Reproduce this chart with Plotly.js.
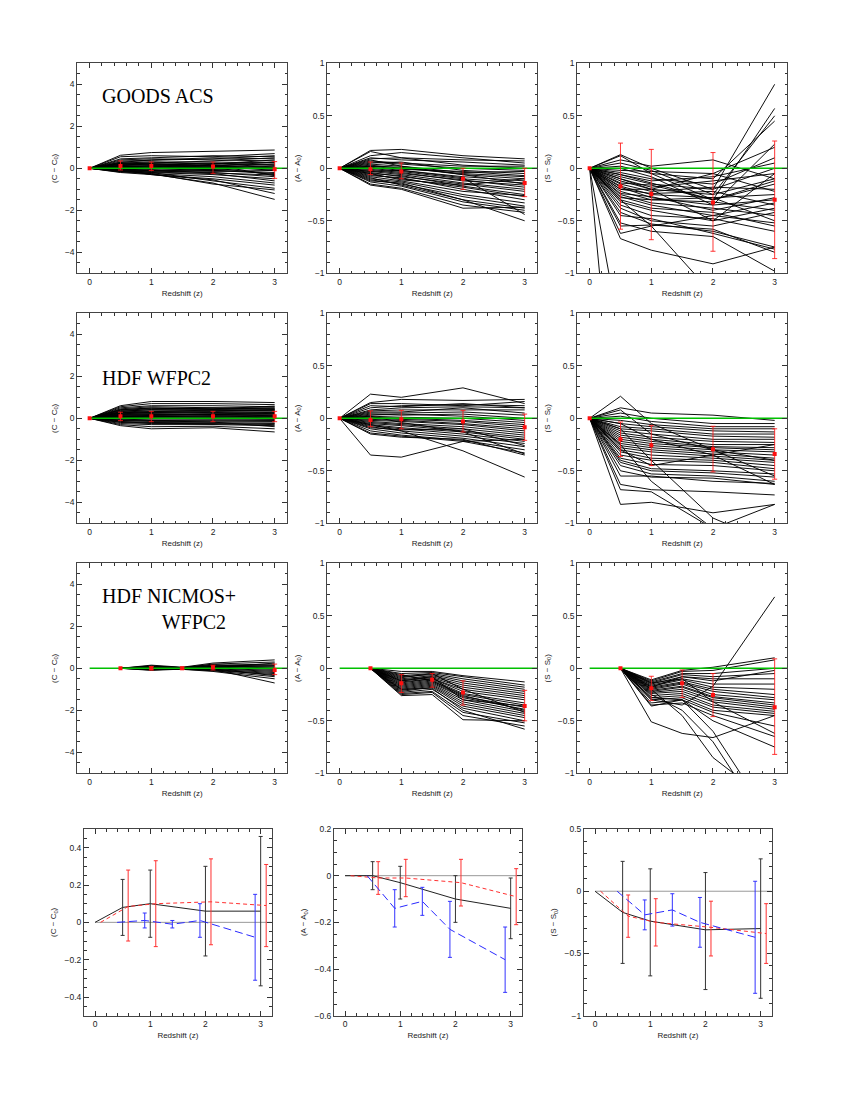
<!DOCTYPE html>
<html><head><meta charset="utf-8">
<script src="https://cdn.plot.ly/plotly-3.0.1.min.js"></script>
<style>body{margin:0;background:#fff}#chart{width:850px;height:1100px}</style>
</head><body><div id="chart"></div>
<script>
// ---------- redshift grids ----------
const zFull = [0, 0.5, 1, 2, 3];
const zNic = [0.5, 1, 1.5, 2, 3];

// ---------- individual galaxy tracks (black) ----------
const goodsC = [
 [0,0.62,0.75,0.8,0.87],[0,0.55,0.6,0.55,0.7],[0,0.45,0.5,0.6,0.55],[0,0.4,0.45,0.4,0.35],
 [0,0.35,0.38,0.45,0.6],[0,0.3,0.3,0.3,0.25],[0,0.25,0.3,0.2,0.4],[0,0.22,0.2,0.25,0.15],
 [0,0.2,0.15,0.1,0.3],[0,0.15,0.2,0.15,0.05],[0,0.12,0.1,0.05,0.2],[0,0.1,0.05,0.1,-0.1],
 [0,0.08,0.1,0,0.1],[0,0.05,0,0.05,-0.05],[0,0.03,0.05,-0.05,0],[0,0,-0.02,-0.1,-0.2],
 [0,-0.02,0,0.02,-0.3],[0,-0.05,-0.08,-0.15,-0.1],[0,-0.08,-0.1,-0.2,-0.4],[0,-0.1,-0.15,-0.1,-0.25],
 [0,-0.12,-0.2,-0.3,-0.5],[0,-0.15,-0.18,-0.25,-0.6],[0,-0.18,-0.25,-0.4,-0.7],[0,-0.2,-0.3,-0.5,-0.8],
 [0,-0.05,-0.2,-0.6,-0.95],[0,-0.1,-0.25,-0.75,-1.03],[0,-0.08,-0.3,-0.55,-1.2],[0,-0.12,-0.28,-0.7,-1.48],
 [0,0.18,0.25,0.35,0.5],[0,0.28,0.4,0.5,0.45],[0,0.06,0.12,0.15,-0.35],[0,0.02,-0.05,0.2,0.15],
 [0,0.13,0.16,0.22,0.28],[0,-0.04,-0.12,-0.22,-0.32],[0,0.24,0.22,0.12,0.02],[0,-0.15,-0.1,-0.05,0.05]
];
const goodsA = [
 [0,0.17,0.18,0.12,0.09],[0,0.16,0.1,0.08,0.07],[0,0.12,0.15,0.1,0.05],[0,0.1,0.08,0.06,0.03],
 [0,0.09,0.1,0.03,0],[0,0.07,0.05,0.02,0.02],[0,0.06,0.04,0,-0.02],[0,0.05,0.06,-0.02,-0.05],
 [0,0.04,0.02,-0.04,-0.03],[0,0.03,0,-0.05,-0.08],[0,0.02,0.01,-0.06,-0.1],[0,0.01,-0.02,-0.08,-0.12],
 [0,0,-0.03,-0.1,-0.14],[0,-0.01,-0.04,-0.12,-0.16],[0,-0.02,-0.05,-0.11,-0.18],[0,-0.03,-0.06,-0.14,-0.2],
 [0,-0.04,-0.08,-0.15,-0.22],[0,-0.05,-0.07,-0.17,-0.25],[0,-0.06,-0.1,-0.18,-0.27],[0,-0.07,-0.09,-0.2,-0.3],
 [0,-0.08,-0.12,-0.22,-0.26],[0,-0.1,-0.13,-0.25,-0.33],[0,-0.11,-0.15,-0.27,-0.36],[0,-0.12,-0.14,-0.3,-0.38],
 [0,-0.13,-0.17,-0.32,-0.4],[0,-0.15,-0.19,-0.35,-0.42],[0,-0.16,-0.2,-0.38,-0.37],[0,-0.09,-0.16,-0.3,-0.5],
 [0,0.02,-0.01,-0.03,-0.07],[0,-0.03,-0.02,-0.09,-0.44],[0,0.08,0.02,-0.06,-0.15],[0,-0.05,-0.11,-0.16,-0.1]
];
const goodsS = [
 [0,0.13,0,-0.2,0.8],[0,0.12,-0.05,-0.3,0.57],[0,0.08,0.02,0.08,-0.1],[0,0.05,-0.02,-0.25,0.5],
 [0,0.02,-0.05,-0.1,0.45],[0,0,-0.08,-0.35,0.23],[0,-0.02,-0.03,-0.05,0.2],[0,-0.04,-0.1,-0.15,0.1],
 [0,-0.06,-0.12,-0.08,0.05],[0,-0.08,-0.15,-0.2,0],[0,-0.1,-0.18,-0.12,-0.05],[0,-0.12,-0.2,-0.25,-0.1],
 [0,-0.14,-0.16,-0.3,-0.15],[0,-0.15,-0.22,-0.18,-0.2],[0,-0.17,-0.25,-0.28,-0.25],[0,-0.18,-0.28,-0.35,-0.3],
 [0,-0.2,-0.24,-0.22,-0.35],[0,-0.22,-0.3,-0.32,-0.4],[0,-0.24,-0.27,-0.4,-0.28],[0,-0.25,-0.33,-0.38,-0.45],
 [0,-0.27,-0.35,-0.45,-0.33],[0,-0.28,-0.3,-0.28,-0.5],[0,-0.3,-0.38,-0.42,-0.55],[0,-0.32,-0.4,-0.5,-0.38],
 [0,-0.35,-0.45,-0.48,-0.6],[0,-0.38,-0.5,-0.55,-0.42],[0,-0.42,-0.53,-0.6,-0.75],[0,-0.45,-0.48,-0.62,-0.77],
 [0,-0.52,-0.6,-0.65,-0.98],[0,-0.55,-0.54,-0.58,-0.8],[0,-0.62,-0.55,-0.45,-0.52],[0,-0.67,-0.78,-0.91,-0.75],
 [0,-0.3,-0.55,-1.2,-1.1],[0,-3.1,-3,-3,-3],[0,-1.6,-1.6,-1.6,-1.6],[0,-0.1,-0.2,-0.05,-0.22],
 [0,-0.06,-0.14,-0.3,-0.12],[0,-0.2,-0.2,-0.5,-0.05]
];
const wfpcC = [
 [0,0.6,0.8,0.8,0.75],[0,0.55,0.7,0.7,0.65],[0,0.5,0.6,0.6,0.55],[0,0.45,0.55,0.5,0.5],
 [0,0.4,0.5,0.45,0.48],[0,0.38,0.45,0.5,0.42],[0,0.35,0.4,0.4,0.4],[0,0.3,0.35,0.38,0.35],
 [0,0.28,0.3,0.32,0.3],[0,0.25,0.28,0.25,0.28],[0,0.22,0.25,0.28,0.22],[0,0.2,0.2,0.2,0.2],
 [0,0.18,0.22,0.15,0.15],[0,0.15,0.15,0.18,0.12],[0,0.12,0.12,0.1,0.1],[0,0.1,0.08,0.12,0.05],
 [0,0.08,0.1,0.05,0.08],[0,0.05,0.05,0.08,0.02],[0,0.03,0.02,0,0],[0,0,0,0.02,-0.03],
 [0,-0.03,-0.02,-0.05,-0.05],[0,-0.05,-0.08,-0.08,-0.1],[0,-0.08,-0.1,-0.12,-0.15],[0,-0.1,-0.15,-0.15,-0.12],
 [0,-0.15,-0.2,-0.2,-0.22],[0,-0.2,-0.25,-0.25,-0.3],[0,-0.25,-0.3,-0.3,-0.35],[0,-0.3,-0.4,-0.38,-0.5],
 [0,-0.35,-0.5,-0.45,-0.65],[0,0.32,0.42,0.45,0.58],[0,0.15,0.18,0.22,0.25],[0,-0.12,-0.12,-0.18,-0.4],
 [0,0.42,0.48,0.42,0.45],[0,0.26,0.32,0.35,0.38],[0,-0.18,-0.22,-0.28,-0.25],[0,0.06,0.14,0.18,0.16]
];
const wfpcA = [
 [0,0.23,0.2,0.29,0.14],[0,0.15,0.18,0.17,0.18],[0,0.14,0.14,0.12,0.16],[0,0.1,0.12,0.13,0.12],
 [0,0.08,0.1,0.11,0.1],[0,0.07,0.08,0.08,0.08],[0,0.06,0.06,0.1,0.05],[0,0.05,0.05,0.06,0.03],
 [0,0.04,0.03,0.04,0],[0,0.03,0.04,0.02,-0.02],[0,0.02,0.01,0,-0.04],[0,0.01,0,-0.02,-0.06],
 [0,0,-0.01,-0.03,-0.08],[0,-0.01,-0.02,-0.05,-0.1],[0,-0.02,-0.03,-0.06,-0.12],[0,-0.03,-0.05,-0.08,-0.14],
 [0,-0.04,-0.06,-0.1,-0.16],[0,-0.05,-0.07,-0.12,-0.18],[0,-0.06,-0.09,-0.13,-0.2],[0,-0.07,-0.1,-0.15,-0.22],
 [0,-0.08,-0.12,-0.17,-0.24],[0,-0.1,-0.14,-0.19,-0.27],[0,-0.12,-0.16,-0.21,-0.3],[0,-0.14,-0.17,-0.22,-0.33],
 [0,-0.15,-0.18,-0.2,-0.35],[0,-0.35,-0.37,-0.22,-0.2],[0,-0.06,-0.12,-0.31,-0.56],[0,0.12,0.11,0.14,0.1],
 [0,-0.09,-0.11,-0.1,-0.26],[0,0.02,-0.04,-0.13,-0.34]
];
const wfpcS = [
 [0,0.21,-0.05,-0.3,-0.4],[0,0.1,0.05,0.03,-0.02],[0,0.05,0,-0.05,-0.05],[0,0.02,-0.03,-0.08,-0.08],
 [0,-0.02,-0.06,-0.1,-0.1],[0,-0.05,-0.08,-0.12,-0.13],[0,-0.08,-0.1,-0.15,-0.15],[0,-0.1,-0.12,-0.17,-0.18],
 [0,-0.12,-0.15,-0.2,-0.2],[0,-0.14,-0.18,-0.22,-0.23],[0,-0.16,-0.2,-0.25,-0.25],[0,-0.18,-0.22,-0.27,-0.28],
 [0,-0.2,-0.24,-0.28,-0.3],[0,-0.22,-0.26,-0.3,-0.32],[0,-0.24,-0.28,-0.32,-0.35],[0,-0.26,-0.3,-0.34,-0.38],
 [0,-0.28,-0.32,-0.36,-0.4],[0,-0.3,-0.35,-0.38,-0.42],[0,-0.32,-0.38,-0.4,-0.45],[0,-0.35,-0.4,-0.42,-0.48],
 [0,-0.38,-0.44,-0.45,-0.5],[0,-0.4,-0.48,-0.5,-0.53],[0,-0.42,-0.5,-0.52,-0.56],[0,-0.45,-0.53,-0.55,-0.6],
 [0,-0.5,-0.56,-0.57,-0.63],[0,-0.55,-0.55,-0.6,-0.62],[0,-0.63,-0.68,-0.7,-0.73],[0,-0.82,-0.8,-0.9,-0.82],
 [0,-0.3,-0.45,-0.35,-0.25],[0,-0.1,-0.4,-0.95,-1.2],[0,-0.25,-0.6,-1.05,-1.3],[0,-0.68,-0.7,-1.05,-0.82],
 [0,-0.05,-0.2,-0.35,-0.63],[0,0.08,-0.15,-0.3,-0.55]
];
const nicC = [
 [0,0.15,0.05,0.25,0.4],[0,0.1,0.03,0.2,0.3],[0,0.08,0.02,0.15,0.2],[0,0.06,0.01,0.12,0.15],
 [0,0.05,0,0.1,0.1],[0,0.03,0.02,0.08,0.05],[0,0.02,0,0.05,0],[0,0,-0.01,0.03,-0.05],
 [0,-0.02,0,0,-0.1],[0,-0.03,-0.02,-0.02,-0.15],[0,-0.05,-0.01,-0.05,-0.2],[0,-0.06,-0.03,-0.08,-0.25],
 [0,-0.08,-0.02,-0.1,-0.3],[0,-0.1,-0.04,-0.12,-0.4],[0,-0.04,-0.05,-0.15,-0.5],[0,0.04,0.03,-0.05,-0.7],
 [0,0.01,0.01,0.02,0.25],[0,-0.01,-0.01,-0.03,-0.35],[0,0.07,0.04,0.18,-0.02],[0,0.12,0.03,0.06,0.12]
];
const nicA = [
 [0,-0.03,-0.03,-0.07,-0.13],[0,-0.05,-0.04,-0.08,-0.16],[0,-0.07,-0.05,-0.1,-0.18],[0,-0.08,-0.06,-0.12,-0.2],
 [0,-0.1,-0.07,-0.14,-0.22],[0,-0.11,-0.08,-0.16,-0.24],[0,-0.12,-0.09,-0.18,-0.26],[0,-0.13,-0.1,-0.2,-0.28],
 [0,-0.14,-0.1,-0.22,-0.3],[0,-0.15,-0.11,-0.24,-0.33],[0,-0.16,-0.12,-0.25,-0.35],[0,-0.17,-0.13,-0.27,-0.37],
 [0,-0.18,-0.14,-0.28,-0.39],[0,-0.19,-0.15,-0.3,-0.41],[0,-0.2,-0.16,-0.32,-0.43],[0,-0.21,-0.17,-0.34,-0.45],
 [0,-0.22,-0.18,-0.36,-0.47],[0,-0.23,-0.2,-0.38,-0.5],[0,-0.24,-0.22,-0.42,-0.52],[0,-0.25,-0.23,-0.45,-0.55],
 [0,-0.26,-0.25,-0.49,-0.5],[0,-0.2,-0.19,-0.4,-0.58],[0,-0.09,-0.05,-0.2,-0.42],[0,-0.12,-0.08,-0.3,-0.36],
 [0,-0.06,-0.12,-0.26,-0.4]
];
const nicS = [
 [0,-0.11,-0.02,0.01,0.1],[0,-0.12,-0.03,-0.02,0.08],[0,-0.13,-0.05,-0.05,0],[0,-0.14,-0.06,-0.08,-0.05],
 [0,-0.15,-0.08,-0.1,-0.1],[0,-0.16,-0.1,-0.15,-0.15],[0,-0.17,-0.11,-0.18,-0.2],[0,-0.18,-0.13,-0.2,-0.25],
 [0,-0.19,-0.14,-0.22,-0.28],[0,-0.2,-0.15,-0.25,-0.3],[0,-0.21,-0.17,-0.27,-0.33],[0,-0.22,-0.18,-0.28,-0.35],
 [0,-0.23,-0.2,-0.3,-0.37],[0,-0.24,-0.22,-0.32,-0.39],[0,-0.26,-0.24,-0.35,-0.41],[0,-0.28,-0.26,-0.37,-0.43],
 [0,-0.3,-0.28,-0.4,-0.45],[0,-0.33,-0.3,-0.42,-0.55],[0,-0.35,-0.33,-0.45,-0.65],[0,-0.36,-0.3,-0.5,-0.75],
 [0,-0.3,-0.35,-0.17,0.68],[0,-0.51,-0.62,-0.66,-0.45],[0,-0.25,-0.4,-0.7,-1.6],[0,-0.28,-0.3,-0.6,-1.5],
 [0,-0.2,-0.45,-0.85,-1.3],[0,-0.14,-0.1,-0.32,-0.62],[0,-0.18,-0.08,-0.12,-0.02]
];

// ---------- red medians with bar ends ----------
const goodsCMed = [0,0.11,0.11,0.08,-0.05], goodsCLo = [0,-0.08,-0.1,-0.24,-0.48], goodsCHi = [0,0.35,0.3,0.3,0.32];
const goodsAMed = [0,-0.01,-0.03,-0.1,-0.14], goodsALo = [0,-0.06,-0.1,-0.2,-0.27], goodsAHi = [0,0.06,0.05,0,0];
const goodsSMed = [0,-0.17,-0.245,-0.325,-0.3], goodsSLo = [0,-0.58,-0.68,-0.79,-0.86], goodsSHi = [0,0.24,0.18,0.15,0.26];
const wfpcCMed = [0,0.1,0.1,0.1,0.1], wfpcCLo = [0,-0.11,-0.16,-0.16,-0.16], wfpcCHi = [0,0.29,0.33,0.33,0.33];
const wfpcAMed = [0,-0.016,-0.01,-0.03,-0.085], wfpcALo = [0,-0.08,-0.1,-0.13,-0.21], wfpcAHi = [0,0.07,0.076,0.076,0.04];
const wfpcSMed = [0,-0.2,-0.256,-0.294,-0.34], wfpcSLo = [0,-0.364,-0.45,-0.51,-0.58], wfpcSHi = [0,-0.035,-0.07,-0.076,-0.1];
const nicCMed = [0,0,0,0.05,-0.08], nicCLo = [0,-0.08,-0.06,-0.08,-0.3], nicCHi = [0,0.08,0.06,0.15,0.2];
const nicAMed = [0,-0.143,-0.11,-0.23,-0.36], nicALo = [0,-0.23,-0.18,-0.35,-0.5], nicAHi = [0,-0.06,-0.05,-0.12,-0.21];
const nicSMed = [0,-0.19,-0.143,-0.255,-0.37], nicSLo = [0,-0.306,-0.277,-0.46,-0.82], nicSHi = [0,-0.076,-0.016,-0.05,0.09];

// ---------- bottom summary row ----------
const zBlk = [0,0.5,1,2,3], zRed = [0.1,0.6,1.1,2.1,3.1], zBlu = [0.4,0.9,1.4,1.9,2.9];
const sumCBlk = [0,0.08,0.1,0.06,0.06], sumCBlkLo = [0,-0.07,-0.08,-0.18,-0.34], sumCBlkHi = [0,0.23,0.28,0.30,0.46];
const sumCRed = [0,0.085,0.1,0.11,0.09], sumCRedLo = [0,-0.10,-0.13,-0.12,-0.13], sumCRedHi = [0,0.28,0.33,0.34,0.31];
const sumCBlu = [0,0.01,-0.01,0.01,-0.08], sumCBluLo = [0,-0.03,-0.03,-0.08,-0.31], sumCBluHi = [0,0.05,0.01,0.10,0.15];
const sumABlk = [0,0,-0.03,-0.10,-0.14], sumABlkLo = [0,-0.06,-0.10,-0.20,-0.27], sumABlkHi = [0,0.06,0.04,0,-0.01];
const sumARed = [0,-0.01,-0.01,-0.03,-0.09], sumARedLo = [0,-0.08,-0.09,-0.13,-0.21], sumARedHi = [0,0.06,0.07,0.07,0.03];
const sumABlu = [0,-0.14,-0.11,-0.23,-0.36], sumABluLo = [0,-0.22,-0.17,-0.35,-0.50], sumABluHi = [0,-0.06,-0.05,-0.11,-0.22];
const sumSBlk = [0,-0.17,-0.24,-0.31,-0.30], sumSBlkLo = [0,-0.58,-0.68,-0.79,-0.86], sumSBlkHi = [0,0.24,0.18,0.15,0.26];
const sumSRed = [0,-0.2,-0.25,-0.29,-0.34], sumSRedLo = [0,-0.37,-0.44,-0.52,-0.58], sumSRedHi = [0,-0.03,-0.06,-0.08,-0.10];
const sumSBlu = [0,-0.19,-0.15,-0.25,-0.37], sumSBluLo = [0,-0.31,-0.28,-0.45,-0.82], sumSBluHi = [0,-0.07,-0.02,-0.05,0.08];

const sampleLabels = ['GOODS ACS', 'HDF WFPC2', 'HDF NICMOS+<br>            WFPC2'];
const yTitles = ['(C − C<sub>0</sub>)', '(A − A<sub>0</sub>)', '(S − S<sub>0</sub>)'];
const xTitle = 'Redshift (z)';

// ---------- build ----------
const W = 850, H = 1100;
const colPx = [[77.3, 287], [327.3, 537], [577.3, 787]];
const rowPx = [[63.3, 273.3], [313.3, 523.3], [563.3, 773.3]];
const col4Px = [[84, 271.7], [334, 521.7], [584, 771.7]];
const row4Px = [829, 1015.7];
const xd = p => [p[0] / W, p[1] / W];
const yd = p => [1 - p[1] / H, 1 - p[0] / H];

const traces = [];
const layout = {
  width: W, height: H, margin: {l: 0, r: 0, t: 0, b: 0},
  paper_bgcolor: '#fff', plot_bgcolor: '#fff', showlegend: false,
  font: {family: 'Liberation Sans, Arial, sans-serif', size: 8, color: '#222'},
  annotations: []
};

function axisCommon(range, dtick, minor) {
  return {
    range: range, dtick: dtick, tick0: 0, ticks: 'inside', ticklen: 5, tickwidth: 1, tickcolor: '#333',
    minor: {dtick: minor, ticks: 'inside', ticklen: 2.5, tickcolor: '#333', tickwidth: 1},
    showline: true, linecolor: '#444', linewidth: 1, mirror: 'allticks',
    showgrid: false, zeroline: false, fixedrange: true,
    tickfont: {size: 8.5, color: '#222', family: 'Liberation Sans, Arial, sans-serif'}
  };
}

function flatten(xs, lines) {
  const x = [], y = [];
  lines.forEach(l => { l.forEach((v, i) => { x.push(xs[i]); y.push(v); }); x.push(null); y.push(null); });
  return {x, y};
}

const panels = [
  [goodsC, zFull, goodsCMed, goodsCLo, goodsCHi],
  [goodsA, zFull, goodsAMed, goodsALo, goodsAHi],
  [goodsS, zFull, goodsSMed, goodsSLo, goodsSHi],
  [wfpcC, zFull, wfpcCMed, wfpcCLo, wfpcCHi],
  [wfpcA, zFull, wfpcAMed, wfpcALo, wfpcAHi],
  [wfpcS, zFull, wfpcSMed, wfpcSLo, wfpcSHi],
  [nicC, zNic, nicCMed, nicCLo, nicCHi],
  [nicA, zNic, nicAMed, nicALo, nicAHi],
  [nicS, zNic, nicSMed, nicSLo, nicSHi]
];
const yRanges = [[-5, 5], [-1, 1], [-1, 1]];
const yDt = [2, 0.5, 0.5], yMinor = [0.5, 0.1, 0.1];

panels.forEach((p, k) => {
  const r = Math.floor(k / 3), c = k % 3, n = k + 1;
  const xa = 'x' + (n === 1 ? '' : n), ya = 'y' + (n === 1 ? '' : n);
  const f = flatten(p[1], p[0]);
  traces.push({x: f.x, y: f.y, xaxis: xa, yaxis: ya, mode: 'lines', connectgaps: false,
    line: {color: '#000', width: 0.95}, hoverinfo: 'skip'});
  traces.push({x: [0, 3.2], y: [0, 0], xaxis: xa, yaxis: ya, mode: 'lines',
    line: {color: '#00c000', width: 1.4}, hoverinfo: 'skip'});
  const zs = p[1].slice(1), med = p[2].slice(1);
  traces.push({x: zs, y: med, xaxis: xa, yaxis: ya, mode: 'markers',
    marker: {color: 'rgba(0,0,0,0)', size: 1},
    error_y: {type: 'data', symmetric: false,
      array: med.map((m, i) => p[4][i + 1] - m), arrayminus: med.map((m, i) => m - p[3][i + 1]),
      color: 'rgba(255,20,20,0.85)', thickness: 1, width: 2.5}, hoverinfo: 'skip'});
  traces.push({x: p[1], y: p[2], xaxis: xa, yaxis: ya, mode: 'markers',
    marker: {color: '#ff1010', size: 4, symbol: 'square'}, hoverinfo: 'skip'});
  layout['xaxis' + (n === 1 ? '' : n)] = Object.assign(axisCommon([-0.2, 3.2], 1, 0.2), {
    domain: xd(colPx[c]), anchor: ya,
    title: {text: xTitle, font: {size: 8, color: '#222'}, standoff: 4}});
  layout['yaxis' + (n === 1 ? '' : n)] = Object.assign(axisCommon(yRanges[c], yDt[c], yMinor[c]), {
    domain: yd(rowPx[r]), anchor: xa,
    title: {text: yTitles[c], font: {size: 8, color: '#222'}, standoff: 6}});
});

// summary row
const sumPanels = [
  [[sumCBlk, sumCBlkLo, sumCBlkHi], [sumCRed, sumCRedLo, sumCRedHi], [sumCBlu, sumCBluLo, sumCBluHi]],
  [[sumABlk, sumABlkLo, sumABlkHi], [sumARed, sumARedLo, sumARedHi], [sumABlu, sumABluLo, sumABluHi]],
  [[sumSBlk, sumSBlkLo, sumSBlkHi], [sumSRed, sumSRedLo, sumSRedHi], [sumSBlu, sumSBluLo, sumSBluHi]]
];
const sumRanges = [[-0.5, 0.5], [-0.6, 0.2], [-1, 0.5]];
const sumDt = [0.2, 0.2, 0.5], sumMinor = [0.05, 0.05, 0.1];
const sumStyles = [
  {z: zBlk, color: '#222', dash: 'solid', ecol: '#333'},
  {z: zRed, color: '#ff3030', dash: '4px,3px', ecol: '#ff3030'},
  {z: zBlu, color: '#2a2aff', dash: '8px,4px', ecol: '#3333ff'}
];
sumPanels.forEach((sp, c) => {
  const n = 10 + c, xa = 'x' + n, ya = 'y' + n;
  traces.push({x: [0, 3.2], y: [0, 0], xaxis: xa, yaxis: ya, mode: 'lines',
    line: {color: '#999', width: 1}, hoverinfo: 'skip'});
  sp.forEach((s, j) => {
    const st = sumStyles[j];
    traces.push({x: st.z, y: s[0], xaxis: xa, yaxis: ya, mode: 'lines',
      line: {color: st.color, width: 1, dash: st.dash}, hoverinfo: 'skip'});
    const zs = st.z.slice(1), med = s[0].slice(1);
    traces.push({x: zs, y: med, xaxis: xa, yaxis: ya, mode: 'markers',
      marker: {color: 'rgba(0,0,0,0)', size: 1},
      error_y: {type: 'data', symmetric: false,
        array: med.map((m, i) => s[2][i + 1] - m), arrayminus: med.map((m, i) => m - s[1][i + 1]),
        color: st.ecol, thickness: 1, width: 2}, hoverinfo: 'skip'});
  });
  layout['xaxis' + n] = Object.assign(axisCommon([-0.2, 3.2], 1, 0.2), {
    domain: xd(col4Px[c]), anchor: ya,
    title: {text: xTitle, font: {size: 8, color: '#222'}, standoff: 4}});
  layout['yaxis' + n] = Object.assign(axisCommon(sumRanges[c], sumDt[c], sumMinor[c]), {
    domain: [1 - row4Px[1] / H, 1 - row4Px[0] / H], anchor: xa,
    title: {text: yTitles[c], font: {size: 8, color: '#222'}, standoff: 6}});
});

// sample labels
const labelPos = [[100, 96], [100, 378], [100, 609]];
sampleLabels.forEach((t, i) => {
  layout.annotations.push({text: t, xref: 'paper', yref: 'paper', x: labelPos[i][0] / W, y: 1 - labelPos[i][1] / H,
    xanchor: 'left', yanchor: 'middle', align: 'left', showarrow: false,
    font: {family: 'Liberation Serif, Times New Roman, serif', size: 20, color: '#000'}});
});

Plotly.newPlot('chart', traces, layout, {staticPlot: true, displayModeBar: false});
</script>
</body></html>
